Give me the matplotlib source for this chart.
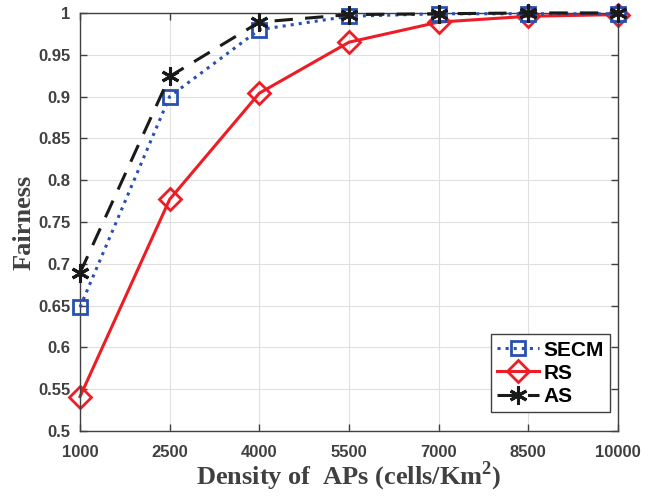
import matplotlib
matplotlib.use("Agg")
import matplotlib.pyplot as plt

density = [1000, 2500, 4000, 5500, 7000, 8500, 10000]
secm = [0.648, 0.900, 0.980, 0.996, 0.999, 0.999, 0.999]
rs = [0.541, 0.777, 0.904, 0.965, 0.989, 0.996, 0.998]
as_vals = [0.689, 0.924, 0.989, 0.998, 0.999, 1.0, 1.0]

plt.rcParams['mathtext.fontset'] = 'custom'
plt.rcParams['mathtext.rm'] = 'Liberation Serif:bold'
plt.rcParams['mathtext.bf'] = 'Liberation Serif:bold'

fig = plt.figure(figsize=(6.56, 4.97), dpi=100)
ax = fig.add_axes([0.122, 0.133, 0.820, 0.841])

ax.plot(density, secm, linestyle=':', color='#2850b0', linewidth=2.2,
        marker='s', markersize=10, markerfacecolor='none',
        markeredgewidth=2, label='SECM', zorder=3, clip_on=False)
ax.plot(density, rs, linestyle='-', color='#ee1c25', linewidth=2.2,
        marker='D', markersize=11, markerfacecolor='none',
        markeredgewidth=2, label='RS', zorder=2, clip_on=False)
ax.plot(density, as_vals, linestyle=(0, (6, 4)), color='#1a1a1a', linewidth=2.2,
        marker=(6, 2, 0), markersize=13, markeredgewidth=2.2,
        label='AS', zorder=4, clip_on=False)

ax.set_xlim(1000, 10000)
ax.set_ylim(0.5, 1.0)
ax.set_xticks(density)
ax.set_yticks([0.5, 0.55, 0.6, 0.65, 0.7, 0.75, 0.8, 0.85, 0.9, 0.95, 1.0])
ax.set_yticklabels(['0.5', '0.55', '0.6', '0.65', '0.7', '0.75', '0.8',
                    '0.85', '0.9', '0.95', '1'])
ax.grid(True, color='#e0e0e0', linewidth=0.8)
ax.set_axisbelow(True)

for lab in ax.get_xticklabels() + ax.get_yticklabels():
    lab.set_family('Liberation Sans')
    lab.set_fontweight('bold')
    lab.set_fontsize(12)
    lab.set_color('#404040')

ax.tick_params(direction='in', top=True, right=True, length=5, width=1,
               color='#404040')
ax.tick_params(axis='x', pad=10)
ax.tick_params(axis='y', pad=7)
for sp in ax.spines.values():
    sp.set_color('#404040')
    sp.set_linewidth(1)

ax.set_xlabel(r'Density of  APs (cells/Km$^{\mathbf{2}}$)', family='Liberation Serif',
              fontweight='bold', fontsize=19, color='#404040', labelpad=0)
ax.set_ylabel('Fairness', family='Liberation Serif', fontweight='bold',
              fontsize=19, color='#404040', labelpad=2)

leg = ax.legend(loc='lower right', bbox_to_anchor=(0.985, 0.045),
                prop={'family': 'Liberation Sans', 'weight': 'bold', 'size': 15},
                fancybox=False, framealpha=1, edgecolor='#404040',
                handlelength=2.0, handletextpad=0.2, borderpad=0.3,
                labelspacing=0.2, borderaxespad=0)
leg.get_frame().set_linewidth(1)

fig.savefig('out.png', dpi=100)
